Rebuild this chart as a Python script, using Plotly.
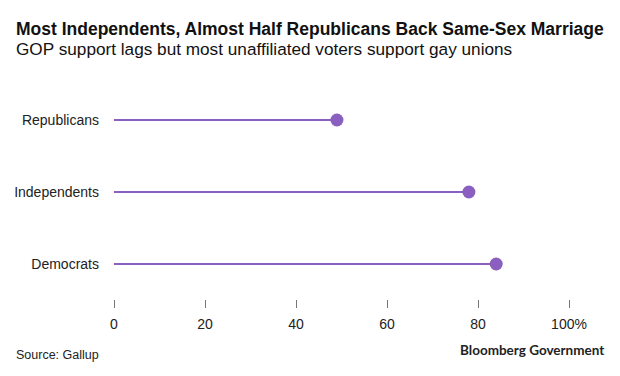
import plotly.graph_objects as go

categories = ["Republicans", "Independents", "Democrats"]
support = [49, 78, 84]
tick_values = [0, 20, 40, 60, 80, 100]
tick_labels = ["0", "20", "40", "60", "80", "100%"]

color = "#8b5fc0"

line_x, line_y = [], []
for c, v in zip(categories, support):
    line_x += [0, v, None]
    line_y += [c, c, None]

fig = go.Figure()
fig.add_trace(go.Scatter(x=line_x, y=line_y, mode="lines",
                         line=dict(color=color, width=2), hoverinfo="skip",
                         showlegend=False))
fig.add_trace(go.Scatter(x=support, y=categories, mode="markers",
                         marker=dict(color=color, size=13), cliponaxis=False,
                         showlegend=False))

L, PW, T, PH = 114, 455, 84, 215

fig.update_layout(
    width=620, height=376,
    margin=dict(l=L, r=620 - L - PW, t=T, b=376 - T - PH),
    paper_bgcolor="white", plot_bgcolor="white",
    font=dict(family="Liberation Sans, Arial, sans-serif", color="#222"),
    xaxis=dict(range=[0, 100], tickvals=tick_values, ticktext=tick_labels,
               showgrid=False, zeroline=False, showline=False,
               ticks="outside", ticklen=8, tickwidth=1, tickcolor="#777",
               tickfont=dict(size=14, color="#222"), ticklabelstandoff=4),
    yaxis=dict(type="category", categoryorder="array", categoryarray=categories,
               range=[2.486, -0.5], showgrid=False, zeroline=False, showline=False,
               ticks="", tickfont=dict(size=14, color="#222"),
               ticklabelstandoff=14),
    annotations=[
        dict(text="<b>Most Independents, Almost Half Republicans Back Same-Sex Marriage</b>",
             xref="paper", yref="paper", x=(14 - L) / PW, y=1 + (T - 29) / PH,
             xanchor="left", yanchor="middle", showarrow=False,
             font=dict(size=17.5, color="#111")),
        dict(text="GOP support lags but most unaffiliated voters support gay unions",
             xref="paper", yref="paper", x=(14 - L) / PW, y=1 + (T - 49) / PH,
             xanchor="left", yanchor="middle", showarrow=False,
             font=dict(size=17.2, color="#111")),
        dict(text="Source: Gallup",
             xref="paper", yref="paper", x=(14 - L) / PW, y=-(355 - T - PH) / PH,
             xanchor="left", yanchor="middle", showarrow=False,
             font=dict(size=12.5, color="#222")),
        dict(text="<b>Bloomberg Government</b>",
             xref="paper", yref="paper", x=(606 - L) / PW, y=-(350 - T - PH) / PH,
             xanchor="right", yanchor="middle", showarrow=False,
             font=dict(family="Lato, sans-serif", size=13.5, color="#222")),
    ],
)

fig.write_html("out.html", config={"displayModeBar": False},
               post_script="document.body.style.margin='0';document.body.style.padding='0';")
